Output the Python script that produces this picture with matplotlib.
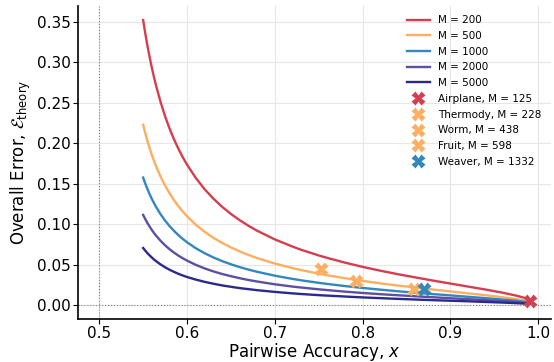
import matplotlib
matplotlib.use("Agg")
import matplotlib.pyplot as plt

x_vals = [0.55, 0.5525, 0.555, 0.5575, 0.56, 0.5625, 0.565, 0.57, 0.575, 0.58,
          0.585, 0.59, 0.595, 0.60, 0.61, 0.62, 0.63, 0.64, 0.65, 0.66,
          0.67, 0.68, 0.70, 0.72, 0.73, 0.75, 0.76, 0.78, 0.80, 0.82,
          0.84, 0.86, 0.88, 0.90, 0.92, 0.94, 0.96, 0.975, 0.99]

err_m200 = [0.3518, 0.3349, 0.3195, 0.3054, 0.2925, 0.2806, 0.2697, 0.2501, 0.2330, 0.2181,
            0.2049, 0.1932, 0.1827, 0.1732, 0.1568, 0.1430, 0.1313, 0.1212, 0.1124, 0.1047,
            0.0978, 0.0916, 0.0810, 0.0722, 0.0682, 0.0612, 0.0581, 0.0523, 0.0471, 0.0424,
            0.0381, 0.0341, 0.0302, 0.0265, 0.0228, 0.0191, 0.0151, 0.0116, 0.0072]
err_m500 = [0.2225, 0.2118, 0.2020, 0.1931, 0.1850, 0.1775, 0.1705, 0.1581, 0.1474, 0.1380,
            0.1296, 0.1222, 0.1155, 0.1095, 0.0991, 0.0904, 0.0830, 0.0767, 0.0711, 0.0662,
            0.0618, 0.0579, 0.0512, 0.0456, 0.0432, 0.0387, 0.0367, 0.0331, 0.0298, 0.0268,
            0.0241, 0.0216, 0.0191, 0.0168, 0.0144, 0.0121, 0.0095, 0.0073, 0.0045]
err_m1000 = [0.1573, 0.1497, 0.1429, 0.1366, 0.1308, 0.1255, 0.1206, 0.1118, 0.1042, 0.0975,
             0.0917, 0.0864, 0.0817, 0.0775, 0.0701, 0.0640, 0.0587, 0.0542, 0.0503, 0.0468,
             0.0437, 0.0410, 0.0362, 0.0323, 0.0305, 0.0274, 0.0260, 0.0234, 0.0211, 0.0190,
             0.0170, 0.0152, 0.0135, 0.0119, 0.0102, 0.0085, 0.0067, 0.0052, 0.0032]
err_m2000 = [0.1112, 0.1059, 0.1010, 0.0966, 0.0925, 0.0887, 0.0853, 0.0791, 0.0737, 0.0690,
             0.0648, 0.0611, 0.0578, 0.0548, 0.0496, 0.0452, 0.0415, 0.0383, 0.0356, 0.0331,
             0.0309, 0.0290, 0.0256, 0.0228, 0.0216, 0.0194, 0.0184, 0.0165, 0.0149, 0.0134,
             0.0121, 0.0108, 0.0096, 0.0084, 0.0072, 0.0060, 0.0048, 0.0037, 0.0023]
err_m5000 = [0.0704, 0.0670, 0.0639, 0.0611, 0.0585, 0.0561, 0.0539, 0.0500, 0.0466, 0.0436,
             0.0410, 0.0386, 0.0365, 0.0346, 0.0314, 0.0286, 0.0263, 0.0242, 0.0225, 0.0209,
             0.0196, 0.0183, 0.0162, 0.0144, 0.0136, 0.0122, 0.0116, 0.0105, 0.0094, 0.0085,
             0.0076, 0.0068, 0.0060, 0.0053, 0.0046, 0.0038, 0.0030, 0.0023, 0.0014]

curve_labels = ["M = 200", "M = 500", "M = 1000", "M = 2000", "M = 5000"]
curve_colors = ["#d53e4f", "#fdae61", "#3288bd", "#5e4fa2", "#2b2a8c"]

dataset_labels = ["Airplane, M = 125", "Thermody, M = 228", "Worm, M = 438",
                  "Fruit, M = 598", "Weaver, M = 1332"]
dataset_x = [0.991, 0.753, 0.792, 0.858, 0.870]
dataset_y = [0.005, 0.044, 0.030, 0.020, 0.020]
dataset_colors = ["#d53e4f", "#fdae61", "#fdae61", "#fdae61", "#3288bd"]

fig, ax = plt.subplots(figsize=(5.54, 3.62), dpi=100)

curves = [err_m200, err_m500, err_m1000, err_m2000, err_m5000]
for ys, lab, c in zip(curves, curve_labels, curve_colors):
    ax.plot(x_vals, ys, color=c, lw=1.7, label=lab, solid_joinstyle="round")

for xv, yv, lab, c in zip(dataset_x, dataset_y, dataset_labels, dataset_colors):
    ax.plot([xv], [yv], linestyle="none", marker="X", markersize=9.5, color=c,
            markeredgecolor="none", label=lab)

ax.axvline(0.5, color="gray", lw=0.8, ls=":")
ax.axhline(0.0, color="gray", lw=0.8, ls=":")

ax.set_xlim(0.4755, 1.0145)
ax.set_ylim(-0.0176, 0.3694)
ax.set_xticks([0.5, 0.6, 0.7, 0.8, 0.9, 1.0])
ax.set_yticks([0.0, 0.05, 0.10, 0.15, 0.20, 0.25, 0.30, 0.35])
ax.set_yticklabels(["0.00", "0.05", "0.10", "0.15", "0.20", "0.25", "0.30", "0.35"])
ax.tick_params(labelsize=11, length=3.5, pad=1.5)
ax.grid(True, color="#e6e6e6", lw=0.8)
ax.set_axisbelow(True)
for s in ["top", "right"]:
    ax.spines[s].set_visible(False)
ax.spines["left"].set_linewidth(1.2)
ax.spines["bottom"].set_linewidth(1.2)

ax.set_xlabel(r"Pairwise Accuracy, $x$", fontsize=12, labelpad=-0.5)
ax.set_ylabel(r"Overall Error, $\mathcal{E}_{\mathrm{theory}}$", fontsize=12, labelpad=3)

ax.legend(loc="upper right", fontsize=7.5, frameon=False, handlelength=2.2,
          borderaxespad=0.5, labelspacing=0.55)

fig.subplots_adjust(left=0.1403, right=0.9946, top=0.984, bottom=0.118)
fig.savefig("out.png", dpi=100)
